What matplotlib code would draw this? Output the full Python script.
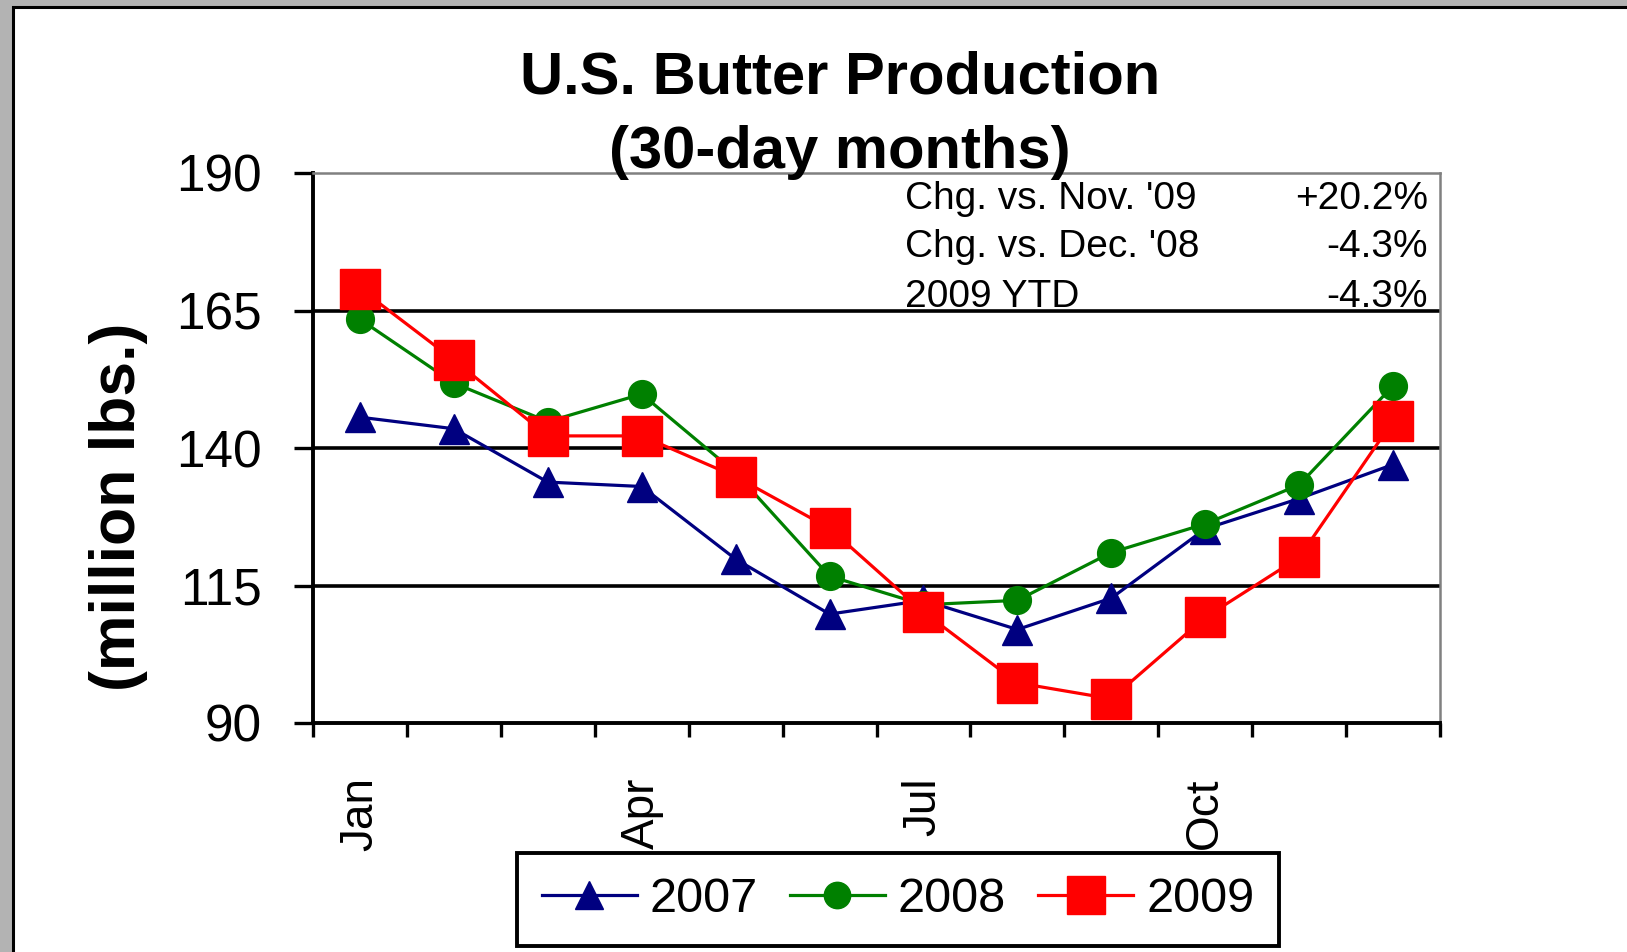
import numpy as np
import matplotlib.pyplot as plt
from matplotlib.patches import Rectangle

plt.rcParams["font.family"] = ["Liberation Sans", "DejaVu Sans"]

# monthly butter production, million lbs (30-day months)
months = ["Jan", "Feb", "Mar", "Apr", "May", "Jun", "Jul", "Aug", "Sep", "Oct", "Nov", "Dec"]
prod_2007 = [145.6, 143.5, 133.8, 133.0, 119.8, 109.8, 112.3, 107.0, 112.7, 125.3, 130.8, 137.0]
prod_2008 = [163.4, 151.8, 144.8, 149.8, 135.5, 116.7, 111.5, 112.3, 121.0, 126.2, 133.3, 151.3]
prod_2009 = [169.0, 156.0, 142.2, 142.2, 134.8, 125.4, 110.2, 97.3, 94.4, 109.2, 120.1, 144.9]
y_ticks = [90, 115, 140, 165, 190]

stat_labels = ["Chg. vs. Nov. '09", "Chg. vs. Dec. '08", "2009 YTD"]
stat_values = ["+20.2%", "-4.3%", "-4.3%"]

W, H = 1627, 952
fig = plt.figure(figsize=(W / 100, H / 100), dpi=100, facecolor="#b3b3b3")

# white panel with black frame (open to the right and bottom)
fig.patches.append(Rectangle((12.5 / W, -0.05), 1.1, 1.05 - 6.5 / H,
                             transform=fig.transFigure, facecolor="white",
                             edgecolor="black", lw=2.2, zorder=-1))

ax = fig.add_axes([313 / W, 1 - 723 / H, (1440 - 313) / W, (723 - 173) / H])
x = np.arange(len(months))

ax.plot(x, prod_2007, color="#000080", marker="^", ms=21, lw=2.3, label="2007")
ax.plot(x, prod_2008, color="#008000", marker="o", ms=20, lw=2.3, label="2008")
ax.plot(x, prod_2009, color="#ff0000", marker="s", ms=29, lw=2.3, label="2009")

ax.set_xlim(-0.5, len(months) - 0.5)
ax.set_ylim(y_ticks[0], y_ticks[-1])
ax.set_yticks(y_ticks)
ax.set_xticks(x[::3])
ax.set_xticklabels(months[::3], rotation=90)
ax.set_xticks(np.arange(-0.5, len(months)), minor=True)

ax.tick_params(axis="x", which="major", length=0, pad=39, labelsize=33)
ax.tick_params(axis="x", which="minor", length=10, width=2.4, direction="out")
ax.tick_params(axis="y", length=14, width=2.4, pad=23, labelsize=37)

ax.grid(axis="y", color="black", lw=2.6)
ax.set_axisbelow(True)
gl = ax.get_ygridlines()
gl[0].set_visible(False)
gl[-1].set_visible(False)

for side in ["left", "bottom"]:
    ax.spines[side].set_color("black")
    ax.spines[side].set_linewidth(2.8)
for side in ["top", "right"]:
    ax.spines[side].set_color("#808080")
    ax.spines[side].set_linewidth(1.8)

# title
fig.text(840 / W, 1 - 94 / H, "U.S. Butter Production", ha="center", va="baseline",
         fontsize=43, fontweight="bold")
fig.text(840 / W, 1 - 168 / H, "(30-day months)", ha="center", va="baseline",
         fontsize=43, fontweight="bold")

fig.text(118 / W, 1 - 507 / H, "(million lbs.)", rotation=90, ha="center", va="center",
         fontsize=45, fontweight="bold")

# stats box text
baselines = [209, 257, 307]
for lab, val, b in zip(stat_labels, stat_values, baselines):
    fig.text(905 / W, 1 - b / H, lab, ha="left", va="baseline", fontsize=28)
    fig.text(1428 / W, 1 - b / H, val, ha="right", va="baseline", fontsize=28)

leg = ax.legend(loc="center", bbox_to_anchor=(898 / W, 1 - 899.5 / H),
                bbox_transform=fig.transFigure, ncol=3, fontsize=35,
                frameon=True, fancybox=False, framealpha=1, edgecolor="black",
                handlelength=1.95, handletextpad=0.27, columnspacing=0.66,
                borderpad=0.5, markerscale=0.95)
leg.get_frame().set_linewidth(2.8)

fig.savefig("out.png", dpi=100, facecolor=fig.get_facecolor())
